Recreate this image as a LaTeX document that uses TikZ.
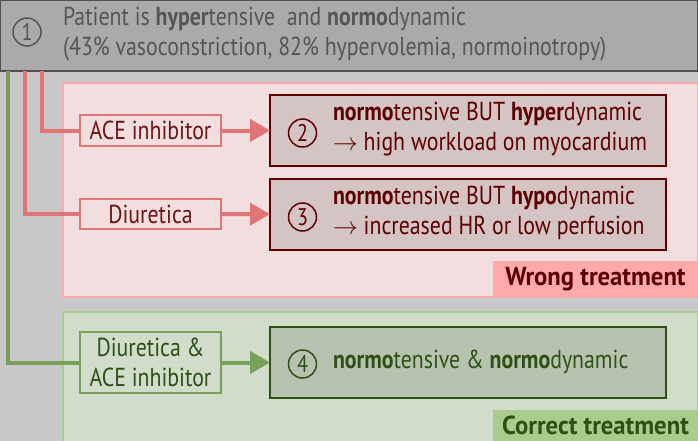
\documentclass[tikz,border=0pt]{standalone}
\usepackage{fontspec}
\setmainfont{PT Sans}[FakeStretch=0.84]
\newfontfamily\tagfont{PT Sans}[FakeStretch=0.95]
\usetikzlibrary{arrows.meta}

\definecolor{bggray}{HTML}{C8C8C8}
\definecolor{titlefill}{HTML}{AAAAAA}
\definecolor{titledraw}{HTML}{505050}
\definecolor{titletext}{HTML}{555555}
\definecolor{wrongfill}{HTML}{F2DEDF}
\definecolor{wrongdraw}{HTML}{FFAAAA}
\definecolor{redline}{HTML}{E07575}
\definecolor{redtext}{HTML}{6B1515}
\definecolor{reddark}{HTML}{5C0000}
\definecolor{redbox}{HTML}{D5C4C4}
\definecolor{rightfill}{HTML}{D1DCCA}
\definecolor{rightdraw}{HTML}{A9CC8D}
\definecolor{greenline}{HTML}{78A05A}
\definecolor{greendark}{HTML}{2D5016}
\definecolor{greenbox}{HTML}{B8C2B0}

\begin{document}
\begin{tikzpicture}[x=1pt,y=-1pt,
    every node/.style={inner sep=0pt, outer sep=0pt},
    txt/.style={font=\fontsize{26}{30}\selectfont},
    num/.style={circle, draw, line width=1.5pt, minimum size=28pt, font=\fontsize{24}{24}\selectfont},
    area/.style={line width=1.5pt},
    drugbox/.style={txt, minimum width=141pt, align=center, line width=1.2pt},
    statebox/.style={minimum width=396pt, minimum height=71pt, line width=2pt},
    tag/.style={font=\fontsize{26}{29}\tagfont\bfseries, minimum width=205pt, anchor=south east},
    redarrow/.style={draw=redline, line width=4pt, -{Triangle[length=20pt,width=22pt]}},
    greenarrow/.style={draw=greenline, line width=4pt, -{Triangle[length=20pt,width=22pt]}}]
    \useasboundingbox (0,0) rectangle (698,441);
    \fill[bggray] (0,0) rectangle (698,441);

    % starting state
    \node[draw=titledraw, fill=titlefill, line width=2pt, minimum width=698pt, minimum height=71pt] (patient) at (349,35.5) {};
    \node[num, draw=titletext, text=titletext] (n1) at (27,32) {1};
    \node[txt, text=titletext, anchor=west, align=left] (patienttext) at (63,34)
        {Patient is \textbf{hyper}tensive\ \ and \textbf{normo}dynamic\\(43\% vasoconstriction, 82\% hypervolemia, normoinotropy)};

    % treatment areas
    \node[area, draw=wrongdraw, fill=wrongfill, minimum width=635pt, minimum height=214pt] (wrongarea) at (380.5,190) {};
    \node[area, draw=rightdraw, fill=rightfill, minimum width=635pt, minimum height=133pt] (rightarea) at (380.5,378.5) {};
    \node[tag, fill=wrongdraw, text=reddark, minimum height=36pt] (wronglabel) at (698,297) {Wrong treatment};
    \node[tag, fill=rightdraw, text=greendark, minimum height=31pt] (rightlabel) at (698,441) {Correct treatment};

    % drugs
    \node[drugbox, draw=redline, fill=wrongfill, text=redtext, minimum height=31pt] (ace) at (150.5,130.5) {ACE inhibitor};
    \node[drugbox, draw=redline, fill=wrongfill, text=redtext, minimum height=30pt] (diu) at (150.5,214) {Diuretica};
    \node[drugbox, draw=greenline, fill=rightfill, text=greendark, minimum height=61pt] (combo) at (150.5,362.5) {Diuretica \&\\ACE inhibitor};

    % resulting states
    \node[statebox, draw=reddark, fill=redbox] (state2) at (468,130.5) {};
    \node[statebox, draw=reddark, fill=redbox] (state3) at (468,214.5) {};
    \node[statebox, draw=greendark, fill=greenbox] (state4) at (468,362.5) {};
    \node[num, draw=reddark, text=reddark] (n2) at (302.5,133) {2};
    \node[num, draw=reddark, text=reddark] (n3) at (302.5,217) {3};
    \node[num, draw=greendark, text=greendark] (n4) at (302.5,364) {4};
    \node[txt, text=reddark, anchor=west, align=left] (text2) at (333,129)
        {\textbf{normo}tensive BUT \textbf{hyper}dynamic\\$\rightarrow$ high workload on myocardium};
    \node[txt, text=reddark, anchor=west, align=left] (text3) at (333,213)
        {\textbf{normo}tensive BUT \textbf{hypo}dynamic\\$\rightarrow$ increased HR or low perfusion};
    \node[txt, text=greendark, anchor=west] (text4) at (333,362)
        {\textbf{normo}tensive \& \textbf{normo}dynamic};

    % connectors
    \coordinate (tapG) at ([xshift=8pt]patient.south west);
    \coordinate (tapD) at ([xshift=25pt]patient.south west);
    \coordinate (tapA) at ([xshift=42pt]patient.south west);
    \draw[draw=redline, line width=4pt] (tapA) |- (ace.west);
    \draw[draw=redline, line width=4pt] (tapD) |- (diu.west);
    \draw[draw=greenline, line width=4pt] (tapG) |- (combo.west);
    \draw[redarrow] (ace) -- (state2);
    \draw[redarrow] (diu) -- (state3);
    \draw[greenarrow] (combo) -- (state4);
\end{tikzpicture}
\end{document}
